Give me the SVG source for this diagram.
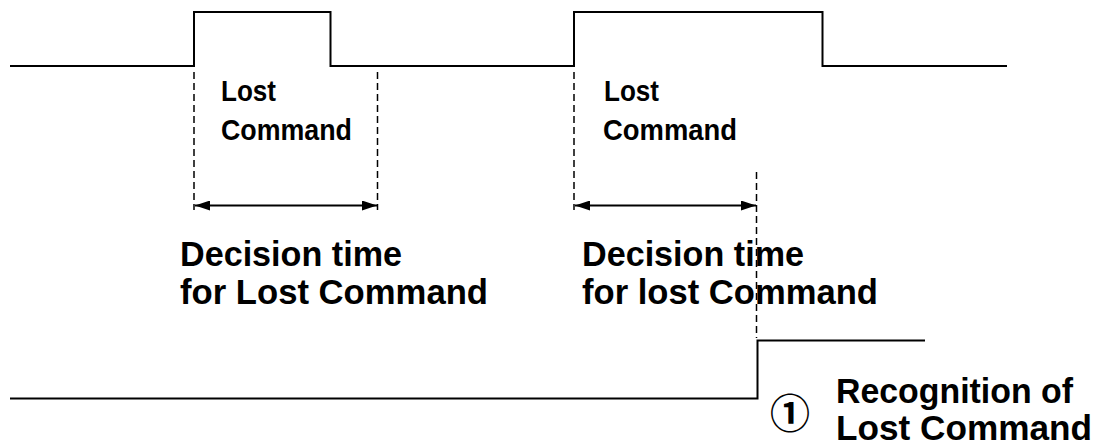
<svg xmlns="http://www.w3.org/2000/svg" width="1096" height="445" viewBox="0 0 1096 445">
<style>
.sig{fill:none;stroke:#000;stroke-width:2}
.dash{fill:none;stroke:#000;stroke-width:1.5;stroke-dasharray:7 4}
.arr{fill:none;stroke:#000;stroke-width:2;marker-start:url(#ah);marker-end:url(#ah)}
.lbl{font-family:"Liberation Sans",Arial,sans-serif;font-weight:bold;fill:#000}
.small{font-size:30px}
.big{font-size:35px}
</style>
<defs>
<marker id="ah" viewBox="0 0 15 10" refX="15" refY="5" markerWidth="15" markerHeight="10" markerUnits="userSpaceOnUse" orient="auto-start-reverse">
<path d="M0,0 L15,5 L0,10 Z" fill="#000"/>
</marker>
</defs>
<rect width="1096" height="445" fill="#fff"/>
<g id="signal-top">
<polyline class="sig" points="10,66 194,66 194,12 330.5,12 330.5,66 574,66 574,12 822.5,12 822.5,66 1007,66"/>
</g>
<g id="signal-bottom">
<polyline class="sig" points="10,398.5 757.5,398.5 757.5,340.5 925,340.5"/>
</g>
<g id="connectors">
<line class="dash" x1="194" y1="72" x2="194" y2="210"/>
<line class="dash" x1="377.5" y1="72" x2="377.5" y2="210"/>
<line class="dash" x1="574" y1="72" x2="574" y2="210"/>
<line class="dash" x1="756.5" y1="172" x2="756.5" y2="338"/>
<line class="arr" x1="195" y1="205.5" x2="377" y2="205.5"/>
<line class="arr" x1="575" y1="205.5" x2="756" y2="205.5"/>
</g>
<g id="label-lost1">
<text class="lbl small" x="221" y="101" textLength="55" lengthAdjust="spacingAndGlyphs">Lost</text>
<text class="lbl small" x="221" y="140" textLength="131" lengthAdjust="spacingAndGlyphs">Command</text>
</g>
<g id="label-lost2">
<text class="lbl small" x="604" y="101" textLength="55" lengthAdjust="spacingAndGlyphs">Lost</text>
<text class="lbl small" x="603" y="140" textLength="134" lengthAdjust="spacingAndGlyphs">Command</text>
</g>
<g id="label-decision1">
<text class="lbl big" x="180" y="266" textLength="222" lengthAdjust="spacingAndGlyphs">Decision time</text>
<text class="lbl big" x="180" y="304" textLength="308" lengthAdjust="spacingAndGlyphs">for Lost Command</text>
</g>
<g id="label-decision2">
<text class="lbl big" x="582" y="266" textLength="222" lengthAdjust="spacingAndGlyphs">Decision time</text>
<text class="lbl big" x="582" y="304" textLength="296" lengthAdjust="spacingAndGlyphs">for lost Command</text>
</g>
<g id="label-recognition">
<text x="790" y="428" text-anchor="middle" style="font-family:'Noto Sans CJK JP','DejaVu Sans',sans-serif;font-size:40px;font-weight:bold;fill:#000">①</text>
<text class="lbl big" x="836" y="403" textLength="237" lengthAdjust="spacingAndGlyphs">Recognition of</text>
<text class="lbl big" x="836" y="440" textLength="256" lengthAdjust="spacingAndGlyphs">Lost Command</text>
</g>
</svg>
